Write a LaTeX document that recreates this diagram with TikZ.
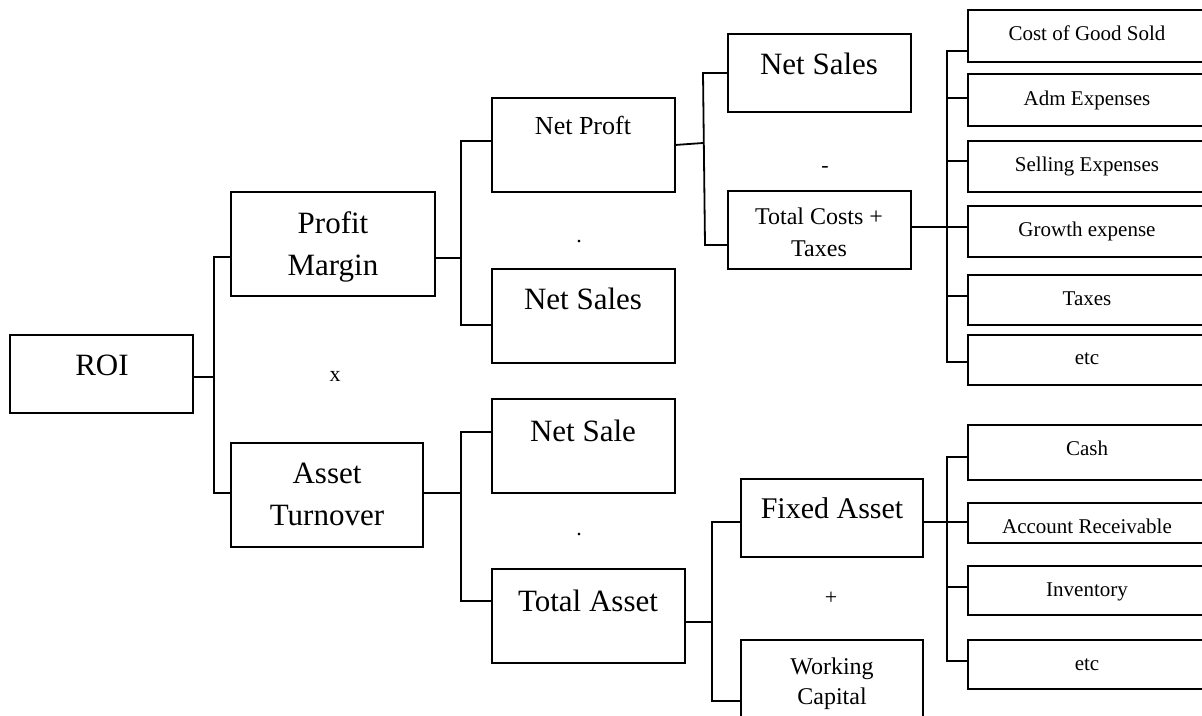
\documentclass[tikz,border=0pt]{standalone}
\usepackage{fontspec}
\setmainfont{Liberation Serif}
\begin{document}
\begin{tikzpicture}[x=1pt,y=-1pt,
  box/.style={draw,line width=2pt,inner sep=0pt,outer sep=0pt,anchor=north west},
  conn/.style={line width=1.8pt},
  big/.style={font=\fontsize{31}{36}\selectfont,anchor=base,inner sep=0pt},
  mid/.style={font=\fontsize{24}{28}\selectfont,anchor=base,inner sep=0pt},
  small/.style={font=\fontsize{21}{25}\selectfont,anchor=base,inner sep=0pt},
  op/.style={font=\fontsize{22}{26}\selectfont,anchor=base,inner sep=0pt}]
\useasboundingbox (0,0) rectangle (1202,715);
\clip (0,0) rectangle (1202,715);
\fill[white] (0,0) rectangle (1202,715);
% boxes
\node[box,minimum width=183pt,minimum height=78pt] (roi) at (10,335) {};
\node[box,minimum width=204pt,minimum height=104pt] (pm) at (231,192) {};
\node[box,minimum width=192pt,minimum height=104pt] (at) at (231,443) {};
\node[box,minimum width=183pt,minimum height=94pt] (np) at (492,98) {};
\node[box,minimum width=183pt,minimum height=94pt] (ns1) at (492,269) {};
\node[box,minimum width=183pt,minimum height=78pt] (ns2) at (728,34) {};
\node[box,minimum width=183pt,minimum height=78pt] (tc) at (728,191) {};
\node[box,minimum width=240pt,minimum height=52pt] (cogs) at (968,10) {};
\node[box,minimum width=240pt,minimum height=52pt] (adm) at (968,74) {};
\node[box,minimum width=240pt,minimum height=51pt] (sell) at (968,141) {};
\node[box,minimum width=240pt,minimum height=51pt] (grow) at (968,206) {};
\node[box,minimum width=240pt,minimum height=50pt] (tax) at (968,275) {};
\node[box,minimum width=240pt,minimum height=50pt] (etca) at (968,335) {};
\node[box,minimum width=183pt,minimum height=94pt] (nsale) at (492,399) {};
\node[box,minimum width=193pt,minimum height=94pt] (ta) at (492,569) {};
\node[box,minimum width=182pt,minimum height=78pt] (fa) at (741,479) {};
\node[box,minimum width=182pt,minimum height=100pt] (wc) at (741,640) {};
\node[box,minimum width=240pt,minimum height=55pt] (cash) at (968,425) {};
\node[box,minimum width=240pt,minimum height=40pt] (ar) at (968,503) {};
\node[box,minimum width=240pt,minimum height=49pt] (inv) at (968,566) {};
\node[box,minimum width=240pt,minimum height=49pt] (etcb) at (968,640) {};
% texts
\node[big] (t-roi) at (102,375) {ROI};
\node[big] (t-pm1) at (333,233) {Profit};
\node[big] (t-pm2) at (333,275) {Margin};
\node[big] (t-at1) at (327,483) {Asset};
\node[big] (t-at2) at (327,525) {Turnover};
\node[font=\fontsize{26}{30}\selectfont,anchor=base,inner sep=0pt] (t-np) at (583,134) {Net Proft};
\node[big] (t-ns1) at (583,309) {Net Sales};
\node[big] (t-ns2) at (819,74) {Net Sales};
\node[mid] (t-tc1) at (819,224) {Total Costs +};
\node[mid] (t-tc2) at (819,256) {Taxes};
\node[small] (t-cogs) at (1087,40) {Cost of Good Sold};
\node[small] (t-adm) at (1087,105) {Adm Expenses};
\node[small] (t-sell) at (1087,171) {Selling Expenses};
\node[small] (t-grow) at (1087,236) {Growth expense};
\node[small] (t-tax) at (1087,305) {Taxes};
\node[small] (t-etca) at (1087,364) {etc};
\node[big] (t-nsale) at (583,441) {Net Sale};
\node[big] (t-ta) at (588,611) {Total Asset};
\node[font=\fontsize{30}{34}\selectfont,anchor=base,inner sep=0pt] (t-fa) at (832,518) {Fixed Asset};
\node[mid] (t-wc1) at (832,674) {Working};
\node[mid] (t-wc2) at (832,704) {Capital};
\node[small] (t-cash) at (1087,455) {Cash};
\node[small] (t-ar) at (1087,533) {Account Receivable};
\node[small] (t-inv) at (1087,596) {Inventory};
\node[small] (t-etcb) at (1087,670) {etc};
% operators
\node[op] (o-x) at (335,381) {x};
\node[op] (o-dot1) at (579,242) {.};
\node[op] (o-minus) at (825,172) {-};
\node[op] (o-dot2) at (579,535) {.};
\node[op] (o-plus) at (831,604) {+};
% connectors
\draw[conn] (roi.east |- 0,377) -- (214,377);
\draw[conn] (pm.west |- 0,257) -- (214,257) -- (214,493) -- (at.west |- 0,493);
\draw[conn] (pm.east |- 0,258) -- (461,258);
\draw[conn] (np.west |- 0,141) -- (461,141) -- (461,325) -- (ns1.west |- 0,325);
\draw[conn] (np.east |- 0,145) -- (703,143);
\draw[conn] (ns2.west |- 0,73) -- (703,73) -- (705,245) -- (tc.west |- 0,245);
\draw[conn] (tc.east |- 0,227) -- (947,227);
\draw[conn] (cogs.west |- 0,51) -- (947,51) -- (947,362) -- (etca.west |- 0,362);
\draw[conn] (adm.west |- 0,98) -- (947,98);
\draw[conn] (sell.west |- 0,161) -- (947,161);
\draw[conn] (grow.west |- 0,227) -- (947,227);
\draw[conn] (tax.west |- 0,296) -- (947,296);
\draw[conn] (at.east |- 0,493) -- (461,493);
\draw[conn] (nsale.west |- 0,432) -- (461,432) -- (461,601) -- (ta.west |- 0,601);
\draw[conn] (ta.east |- 0,622) -- (712,622);
\draw[conn] (fa.west |- 0,522) -- (712,522) -- (712,701) -- (wc.west |- 0,701);
\draw[conn] (fa.east |- 0,522) -- (947,522);
\draw[conn] (cash.west |- 0,457) -- (947,457) -- (947,661) -- (etcb.west |- 0,661);
\draw[conn] (ar.west |- 0,522) -- (947,522);
\draw[conn] (inv.west |- 0,587) -- (947,587);
\end{tikzpicture}
\end{document}
